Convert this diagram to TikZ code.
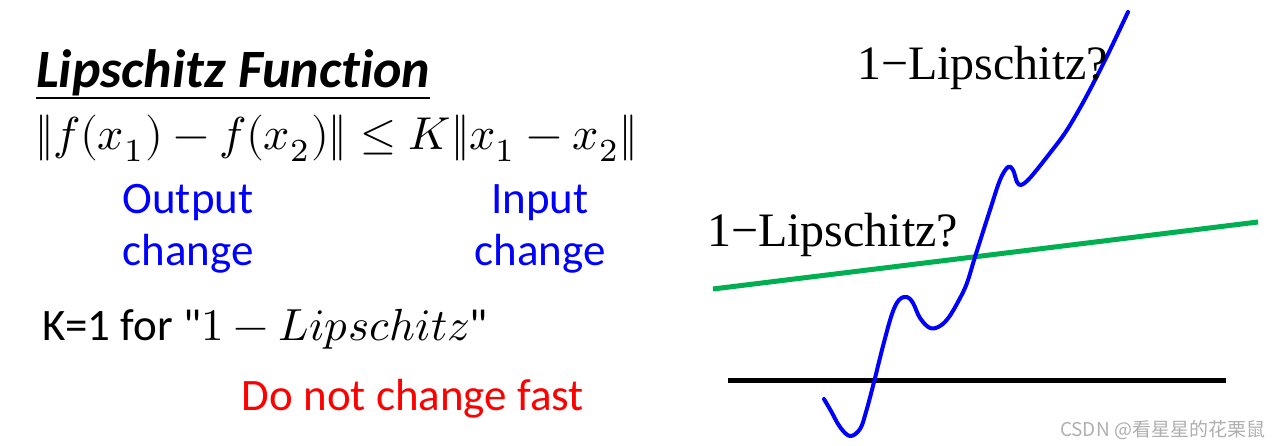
\documentclass[tikz,border=0pt]{standalone}
\usepackage{fontspec}
\usepackage{unicode-math}
\setmainfont[Ligatures=NoCommon]{Carlito}
\setmathfont{Latin Modern Math}
\newfontfamily\serifcam{Liberation Serif}
\newfontfamily\cjkfont{Noto Sans CJK SC}
\usepackage{graphicx}
\definecolor{pptblue}{RGB}{0,0,255}
\definecolor{pptgreen}{RGB}{0,176,80}
\definecolor{pptred}{RGB}{255,0,0}
\definecolor{wmgray}{RGB}{175,175,175}
\tikzset{
  txt/.style={inner sep=0pt,outer sep=0pt},
  body/.style={txt,font=\fontsize{45}{50}\selectfont},
  bluetxt/.style={body,text=pptblue,anchor=base},
  serlabel/.style={txt,anchor=base west,font=\serifcam\fontsize{48}{54}\selectfont},
  thickline/.style={line width=5pt},
}
\begin{document}
\begin{tikzpicture}[x=1pt,y=-1pt]
\useasboundingbox (0,0) rectangle (1280,446);
% left side
\node[txt,anchor=base west,font=\fontsize{54}{60}\selectfont\bfseries\itshape] (title) at (36,88) {Lipschitz Function};
\draw[line width=1.5pt] ([yshift=-10pt]title.base west) -- ([yshift=-10pt]title.base east);
\node[txt,anchor=base west] (formula) at (35,150) {\resizebox{603pt}{!}{$\|f(x_1)-f(x_2)\|\le K\|x_1-x_2\|$}};
\node[bluetxt] (out1) at (188,214) {Output};
\node[bluetxt] (out2) at (188,266) {change};
\node[bluetxt] (in1) at (540,214) {Input};
\node[bluetxt] (in2) at (540,266) {change};
\node[body,anchor=base west,font=\fontsize{45}{50}\selectfont] (kline) at (42,341) {K=1 for \textquotedbl$1-Lipschitz$\textquotedbl};
\node[body,anchor=base,text=pptred] (fast) at (413,410) {Do not change fast};
% right side
\coordinate (k1) at (728,380);
\coordinate (k2) at (1226,380);
\coordinate (g1) at (713,289);
\coordinate (g2) at (1258,222);
\draw[thickline,black] (k1) -- (k2);
\draw[thickline,pptgreen] (g1) -- (g2);
\draw[line width=4pt,pptblue,line cap=round,line join=round] plot[smooth,tension=0.6] coordinates {
(824,399) (831,411) (840,427) (850,436) (860,429) (866,412) (874,382) (883,346) (892,314) (899,300) (907,297) (913,303) (920,318) (930,328) (940,326) (949,317) (959,300) (967,283) (975,257) (990,210) (1000,180) (1008,167) (1013,170) (1017,182) (1021,185) (1027,181) (1035,172) (1050,153) (1065,133) (1080,108) (1095,80) (1110,50) (1128,12)};
\node[serlabel] (lab1) at (857,80) {1−Lipschitz?};
\node[serlabel] (lab2) at (707,247) {1−Lipschitz?};
\node[txt,anchor=base east,font=\cjkfont\fontsize{19}{22}\selectfont,text=wmgray] (wm) at (1265,436) {CSDN @看星星的花栗鼠};
\end{tikzpicture}
\end{document}
